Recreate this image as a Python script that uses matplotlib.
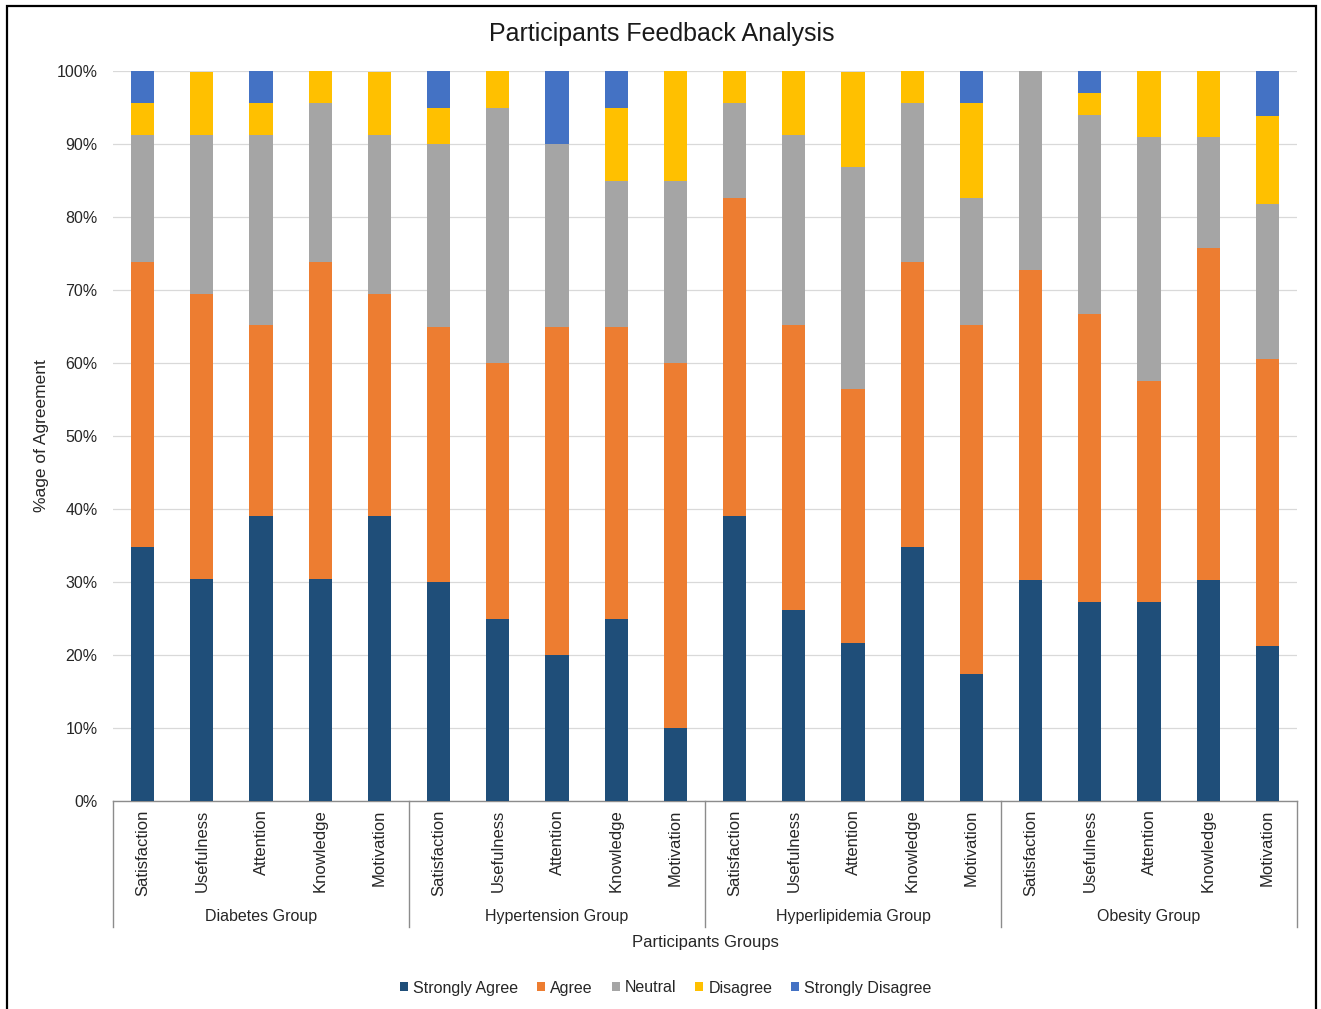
import matplotlib
matplotlib.use("Agg")
import matplotlib.pyplot as plt
from matplotlib.transforms import blended_transform_factory
from matplotlib.lines import Line2D
from matplotlib.patches import Rectangle
import numpy as np

plt.rcParams['font.family'] = ['Liberation Sans', 'DejaVu Sans']

groups = ["Diabetes Group", "Hypertension Group", "Hyperlipidemia Group", "Obesity Group"]
aspects = ["Satisfaction", "Usefulness", "Attention", "Knowledge", "Motivation"]
levels = ["Strongly Agree", "Agree", "Neutral", "Disagree", "Strongly Disagree"]
colors = ["#1F4E79", "#ED7D31", "#A5A5A5", "#FFC000", "#4472C4"]

# Percentages per bar (groups in order, 5 aspects each)
strongly_agree = [34.8, 30.4, 39.1, 30.4, 39.1,
                  30.0, 25.0, 20.0, 25.0, 10.0,
                  39.1, 26.1, 21.7, 34.8, 17.4,
                  30.3, 27.3, 27.3, 30.3, 21.2]
agree = [39.1, 39.1, 26.1, 43.5, 30.4,
         35.0, 35.0, 45.0, 40.0, 50.0,
         43.5, 39.1, 34.8, 39.1, 47.8,
         42.4, 39.4, 30.3, 45.5, 39.4]
neutral = [17.4, 21.7, 26.1, 21.7, 21.7,
           25.0, 35.0, 25.0, 20.0, 25.0,
           13.0, 26.1, 30.4, 21.7, 17.4,
           27.3, 27.3, 33.3, 15.2, 21.2]
disagree = [4.35, 8.7, 4.35, 4.35, 8.7,
            5.0, 5.0, 0.0, 10.0, 15.0,
            4.35, 8.7, 13.0, 4.35, 13.0,
            0.0, 3.0, 9.1, 9.1, 12.1]
strongly_disagree = [4.35, 0.0, 4.35, 0.0, 0.0,
                     5.0, 0.0, 10.0, 5.0, 0.0,
                     0.0, 0.0, 0.0, 0.0, 4.35,
                     0.0, 3.0, 0.0, 0.0, 6.1]

series = [strongly_agree, agree, neutral, disagree, strongly_disagree]

W, H = 1321, 1009
fig = plt.figure(figsize=(W / 100, H / 100), dpi=100)

# outer chart frame
fig.add_artist(Rectangle((7 / W, -0.01), (1316 - 7) / W, 1.01 - 6 / H,
                         transform=fig.transFigure, fill=False,
                         edgecolor="black", linewidth=1.6))

ax = fig.add_axes([113 / W, 1 - 801 / H, (1297 - 113) / W, (801 - 71) / H])

n = len(strongly_agree)
x = np.arange(n)
bottom = np.zeros(n)
for vals, col, lab in zip(series, colors, levels):
    v = np.array(vals)
    ax.bar(x, v, 0.39, bottom=bottom, color=col, label=lab, zorder=3)
    bottom += v

ax.set_xlim(-0.5, n - 0.5)
ax.set_ylim(0, 100)
ax.set_yticks(np.arange(0, 101, 10))
ax.set_yticklabels([f"{t}%" for t in range(0, 101, 10)], fontsize=11.5, color="#262626")
ax.yaxis.grid(True, color="#D9D9D9", linewidth=0.9, zorder=0)
ax.tick_params(axis="y", length=0, pad=11)
for s in ["left", "right", "top"]:
    ax.spines[s].set_visible(False)
ax.spines["bottom"].set_color("#8C8C8C")
ax.spines["bottom"].set_linewidth(1.0)

ax.set_xticks(x)
ax.set_xticklabels(aspects * len(groups), rotation=90, fontsize=12, color="#262626",
                   va="top", ha="center")
ax.tick_params(axis="x", length=0, pad=6)

trans = blended_transform_factory(ax.transData, fig.transFigure)
y_bottom_sep = 1 - 927 / H
for g in range(len(groups) + 1):
    xs = g * 5 - 0.5
    ax.add_line(Line2D([xs, xs], [1 - 801 / H, y_bottom_sep], transform=trans,
                       color="#8C8C8C", linewidth=1.0, clip_on=False))
for g, name in enumerate(groups):
    ax.text(g * 5 + 2, 1 - 917 / H, name, transform=trans, ha="center", va="center",
            fontsize=11.5, color="#262626")

fig.text((113 + 1297) / 2 / W, 1 - 942 / H, "Participants Groups", ha="center", va="center",
         fontsize=12, color="#262626")
fig.text(42 / W, 1 - 436 / H, "%age of Agreement", rotation=90, ha="center", va="center",
         fontsize=12.5, color="#262626")
fig.text(662 / W, 1 - 34 / H, "Participants Feedback Analysis", ha="center", va="center",
         fontsize=18, color="#1A1A1A")

leg = fig.legend(loc="center", bbox_to_anchor=(666 / W, 1 - 988 / H), ncol=5,
                 frameon=False, fontsize=11.5, handlelength=0.5, handleheight=0.5,
                 handletextpad=0.3, columnspacing=1.2)
for t in leg.get_texts():
    t.set_color("#262626")

fig.savefig("out.png", dpi=100)
